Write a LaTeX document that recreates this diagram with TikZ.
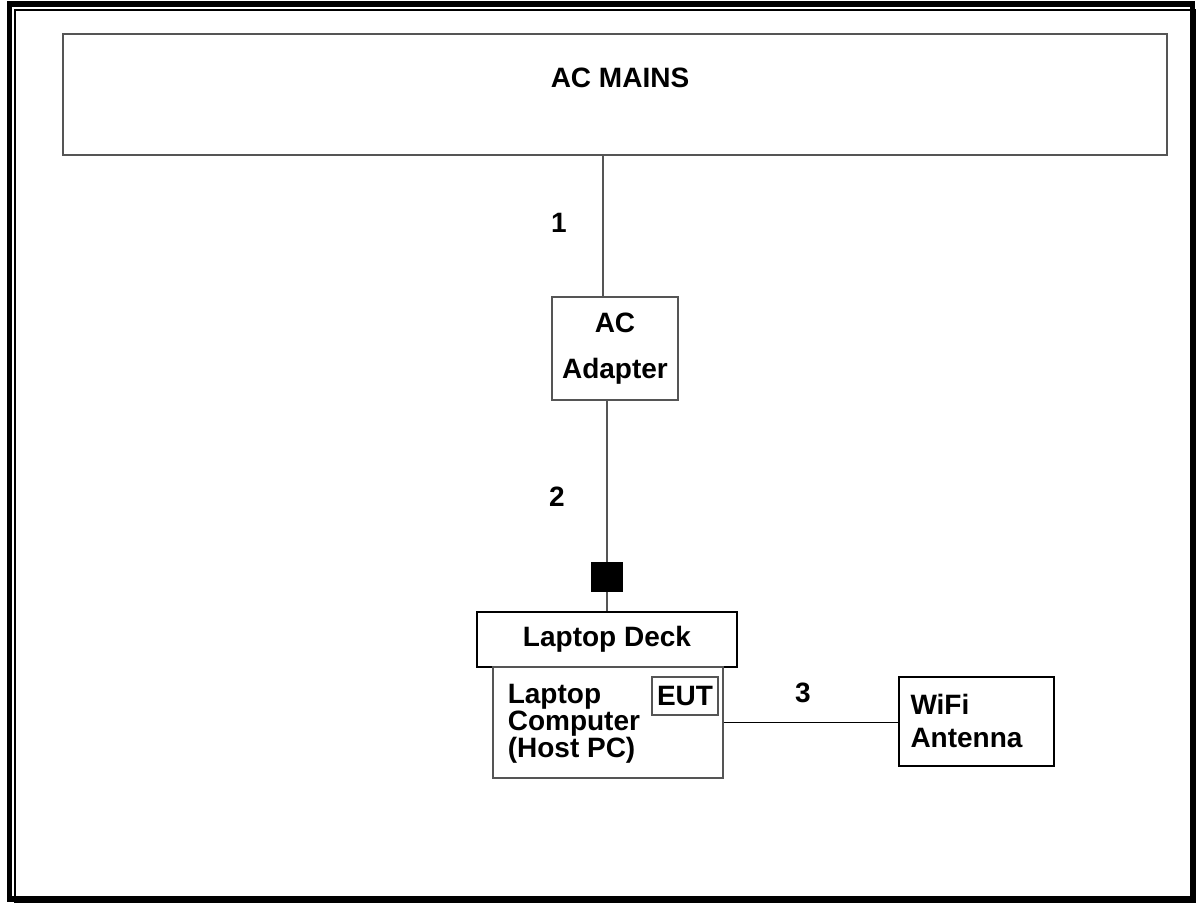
\documentclass[tikz,border=0pt]{standalone}
\usepackage{fontspec}
\setmainfont{Liberation Sans}
\usepackage{tikz}
\usetikzlibrary{positioning,calc}
\usepackage{xcolor}
\definecolor{wiregrey}{RGB}{85,85,85}

\begin{document}
\begin{tikzpicture}[x=0.5pt, y=-0.5pt,
    box/.style={rectangle, draw=wiregrey, line width=0.6pt, inner sep=0pt, align=center,
                font=\fontsize{14}{23}\selectfont\bfseries},
    darkbox/.style={box, draw=black, line width=0.9pt},
    txt/.style={inner sep=0pt, align=left, anchor=north west},
    lbl/.style={inner sep=0pt, font=\fontsize{14}{16}\selectfont\bfseries},
    wire/.style={draw=wiregrey, line width=0.6pt}
]
\useasboundingbox (0,0) rectangle (1196,903);
% page frame
\draw[line width=2.8pt] (9.3,4.2) rectangle (1192.3,899.2);
\draw[line width=0.8pt] (15,10) rectangle (1195.5,902.3);

\node[box, minimum width=552pt, minimum height=60.5pt] (mains) at (615,94.5) {};
\node[lbl] (mainstxt) at (620,77.5) {AC MAINS};
\node[box, minimum width=63pt, minimum height=51.5pt] (adapter) at (615,348.5) {AC\\Adapter};
\node[fill=black, minimum width=16pt, minimum height=15pt, inner sep=0pt] (plug) at (607,577) {};
\node[darkbox, minimum width=130pt, minimum height=27.5pt] (deck) at (607,639.5) {Laptop Deck};
\node[box, minimum width=115pt, minimum height=55.5pt] (laptop) at (608,722.5) {};
\node[txt, font=\fontsize{14}{13.5}\selectfont\bfseries]
    (laptoptxt) at ([xshift=7.5pt,yshift=-8.5pt]laptop.north west) {Laptop\\Computer\\(Host PC)};
\node[box, minimum width=33pt, minimum height=19pt] (eut) at (685,696) {EUT};
\node[darkbox, minimum width=77.5pt, minimum height=44.5pt] (wifi) at (976.5,721.5) {};
\node[txt, font=\fontsize{14}{16.5}\selectfont\bfseries]
    (wifitxt) at ([xshift=6pt,yshift=-9pt]wifi.north west) {WiFi\\Antenna};

% cables
\draw[wire] ([xshift=-6pt]adapter.north) -- ([xshift=-6pt]adapter.north |- mains.south);
\draw[wire] (plug) -- (plug |- adapter.south);
\draw[wire] (plug) -- (plug |- deck.north);
\draw[wire, draw=black, line width=0.9pt] (laptop.east) -- (laptop.east -| wifi.west);

\node[lbl] (one) at (559,223) {1};
\node[lbl] (two) at (557,497) {2};
\node[lbl] (three) at (803,693) {3};
\end{tikzpicture}
\end{document}
